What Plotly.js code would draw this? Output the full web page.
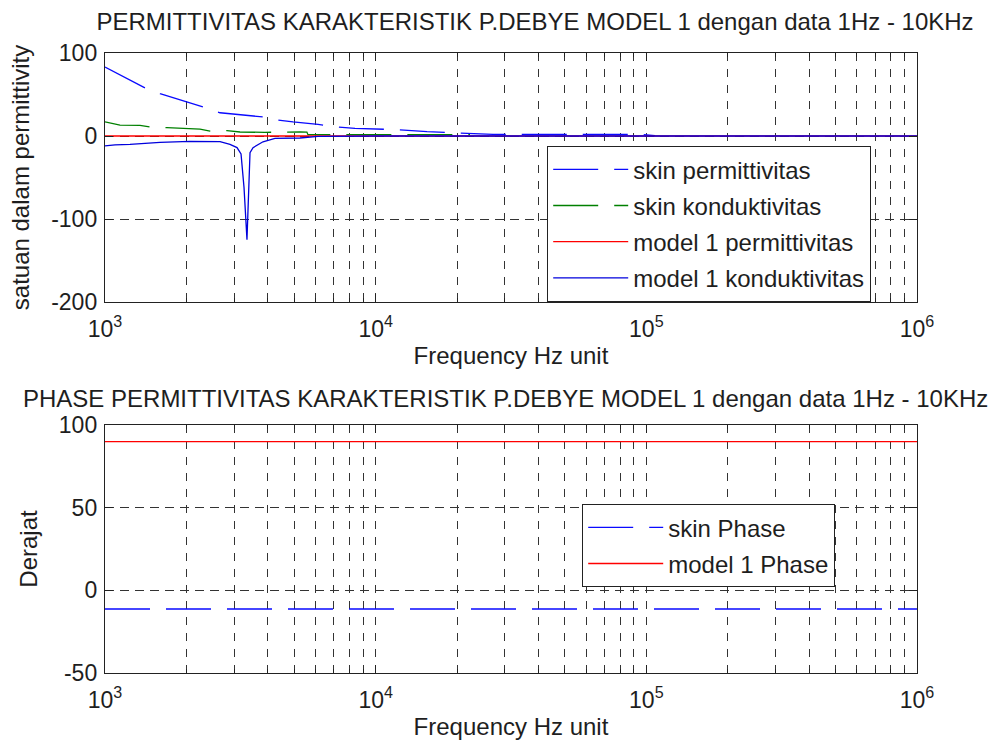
<!DOCTYPE html>
<html>
<head>
<meta charset="utf-8">
<script src="https://cdn.plot.ly/plotly-3.0.1.min.js"></script>
<style>
  html, body { margin: 0; padding: 0; background: #ffffff; }
  #chart { width: 1006px; height: 749px; }
</style>
</head>
<body>
<div id="chart"></div>
<script>
// ---- Permittivity panel data (frequency in Hz) ----
const skinPermFreq = [1000, 1405, 1597, 1975, 2302, 2661, 3000, 3835, 4355, 4951, 6124, 7196, 8386, 10380, 12300, 15480, 19980, 23000, 27130, 34150, 56900, 83400, 94800, 107700];
const skinPermVal  = [83, 58, 51, 42, 35, 28, 26.5, 23, 19.3, 16.9, 14, 10.8, 9.2, 8, 7.5, 5.2, 4, 3.2, 2, 2, 2.4, 2.4, 2, 0.5];

const skinCondFreq = [1000, 1136, 1347, 1466, 1694, 1975, 2244, 2444, 2823, 3153, 3899, 5253, 5571, 5620, 11790, 22310];
const skinCondVal  = [17, 13, 12.9, 10.8, 10, 8.8, 8.4, 6, 6.5, 4.8, 4.4, 5.0, 4.8, 1.6, 1.6, 1.6];

const modelPermFreq = [1000, 10000, 100000, 1000000];
const modelPermVal  = [0, 0, 0, 0];

const modelCondFreq = [1000, 1089, 1237, 1597, 2061, 2661, 2896, 3074, 3181, 3263, 3346, 3404, 3434, 3523, 3835, 4246, 5253, 6124, 10000, 100000, 1000000];
const modelCondVal  = [-12, -10.8, -10, -7.6, -6.4, -6.8, -10, -14, -21.7, -62, -125, -62, -20, -14, -7, -2.8, -2.4, -0.4, 0, 0, 0];

// ---- Phase panel data ----
const skinPhaseFreq = [1000, 10000, 100000, 1000000];
const skinPhaseVal  = [-11.3, -11.3, -11.3, -11.3];
const modelPhaseFreq = [1000, 10000, 100000, 1000000];
const modelPhaseVal  = [90, 90, 90, 90];

// ---- Axis tick labels ----
const decadeVals = [1e3, 1e4, 1e5, 1e6];
const decadeText = ['10<sup>3</sup>', '10<sup>4</sup>', '10<sup>5</sup>', '10<sup>6</sup>'];
const permTickVals = [-200, -100, 0, 100];
const permTickText = ['-200', '-100', '0', '100'];
const phaseTickVals = [-50, 0, 50, 100];
const phaseTickText = ['-50', '0', '50', '100'];

// 2..9 x each decade for the minor log grid
const minorLogVals = [];
decadeVals.slice(0, 3).forEach(d => {
  for (let m = 2; m <= 9; m++) minorLogVals.push(m * d);
});

const FONT = 'Liberation Sans, Arial, Helvetica, sans-serif';
const TXT = '#1e1e1e';
const FS = 24;
const TFS = 23;
const DASH = '45px,16px';
const GRID = '#333333';

const traces = [
  { x: skinPermFreq, y: skinPermVal, name: 'skin permittivitas', mode: 'lines',
    line: { color: '#0a0aff', width: 1.3, dash: DASH }, xaxis: 'x', yaxis: 'y',
    legend: 'legend', legendgroup: 'a' },
  { x: skinCondFreq, y: skinCondVal, name: 'skin konduktivitas', mode: 'lines',
    line: { color: '#008000', width: 1.3, dash: DASH }, xaxis: 'x', yaxis: 'y',
    legend: 'legend', legendgroup: 'b' },
  { x: modelPermFreq, y: modelPermVal, name: 'model 1 permittivitas', mode: 'lines',
    line: { color: '#ff0000', width: 1.3 }, xaxis: 'x', yaxis: 'y',
    legend: 'legend', legendgroup: 'c' },
  { x: modelCondFreq, y: modelCondVal, name: 'model 1 konduktivitas', mode: 'lines',
    line: { color: '#0000dd', width: 1.3 }, xaxis: 'x', yaxis: 'y',
    legend: 'legend', legendgroup: 'd' },
  { x: skinPhaseFreq, y: skinPhaseVal, name: 'skin Phase', mode: 'lines',
    line: { color: '#0a0aff', width: 1.3, dash: DASH }, xaxis: 'x2', yaxis: 'y2',
    legend: 'legend2', legendgroup: 'e' },
  { x: modelPhaseFreq, y: modelPhaseVal, name: 'model 1 Phase', mode: 'lines',
    line: { color: '#ff0000', width: 1.3 }, xaxis: 'x2', yaxis: 'y2',
    legend: 'legend2', legendgroup: 'f' }
];

function xAxis(anchor) {
  return {
    type: 'log', range: [3, 6], domain: [105 / 1006, 917 / 1006], anchor: anchor,
    tickmode: 'array', tickvals: decadeVals, ticktext: decadeText,
    ticks: 'inside', ticklen: 8, tickcolor: '#222', tickwidth: 1,
    ticklabelstandoff: 6,
    minor: {
      tickmode: 'array', tickvals: minorLogVals,
      ticks: 'inside', ticklen: 4, tickcolor: '#222', tickwidth: 1,
      showgrid: true, gridcolor: GRID, gridwidth: 1, griddash: '8px,8px'
    },
    showline: true, linecolor: '#222', linewidth: 1.2, mirror: 'ticks',
    showgrid: true, gridcolor: GRID, gridwidth: 1, griddash: '8px,8px',
    zeroline: false, tickfont: { family: FONT, size: TFS, color: TXT },
    title: { text: 'Frequency Hz unit', font: { family: FONT, size: FS, color: TXT }, standoff: 6 }
  };
}
function yAxis(anchor, domain, range, vals, text, label) {
  return {
    range: range, domain: domain, anchor: anchor,
    tickmode: 'array', tickvals: vals, ticktext: text,
    ticks: 'inside', ticklen: 8, tickcolor: '#222', tickwidth: 1,
    ticklabelstandoff: 2,
    showline: true, linecolor: '#222', linewidth: 1.2, mirror: 'ticks',
    showgrid: true, gridcolor: GRID, gridwidth: 1, griddash: '9px,6px',
    zeroline: false, tickfont: { family: FONT, size: TFS, color: TXT },
    title: { text: label, font: { family: FONT, size: FS, color: TXT }, standoff: 14 }
  };
}

const legendCommon = {
  bgcolor: '#ffffff', bordercolor: '#222', borderwidth: 1.2,
  font: { family: FONT, size: FS, color: TXT },
  itemwidth: 75, tracegroupgap: 2, traceorder: 'grouped',
  xanchor: 'left', yanchor: 'top', xref: 'paper', yref: 'paper',
  itemclick: false, itemdoubleclick: false
};

const layout = {
  width: 1006, height: 749,
  margin: { l: 0, r: 0, t: 0, b: 0 },
  paper_bgcolor: '#ffffff', plot_bgcolor: 'rgba(0,0,0,0)',
  font: { family: FONT, size: FS, color: TXT },
  showlegend: true,
  title: {
    text: 'PERMITTIVITAS KARAKTERISTIK P.DEBYE MODEL 1 dengan data 1Hz - 10KHz',
    font: { family: FONT, size: FS, color: TXT },
    x: 535 / 1006, xanchor: 'center', y: 1 - 22 / 749, yanchor: 'middle'
  },
  xaxis: xAxis('y'),
  yaxis: yAxis('x', [1 - 302 / 749, 1 - 53 / 749], [-200, 100], permTickVals, permTickText, 'satuan dalam permittivity'),
  xaxis2: xAxis('y2'),
  yaxis2: yAxis('x2', [1 - 673 / 749, 1 - 425 / 749], [-50, 100], phaseTickVals, phaseTickText, 'Derajat'),
  legend: Object.assign({}, legendCommon, { x: 547 / 1006, y: 1 - 146 / 749 }),
  legend2: Object.assign({}, legendCommon, { x: 582 / 1006, y: 1 - 504 / 749 }),
  annotations: [{
    text: 'PHASE PERMITTIVITAS KARAKTERISTIK P.DEBYE MODEL 1 dengan data 1Hz - 10KHz',
    xref: 'paper', yref: 'paper', x: 505 / 1006, y: 1 - 398 / 749,
    xanchor: 'center', yanchor: 'middle', showarrow: false,
    font: { family: FONT, size: FS, color: TXT }
  }]
};

Plotly.newPlot('chart', traces, layout, { staticPlot: true, displayModeBar: false });
</script>
</body>
</html>
